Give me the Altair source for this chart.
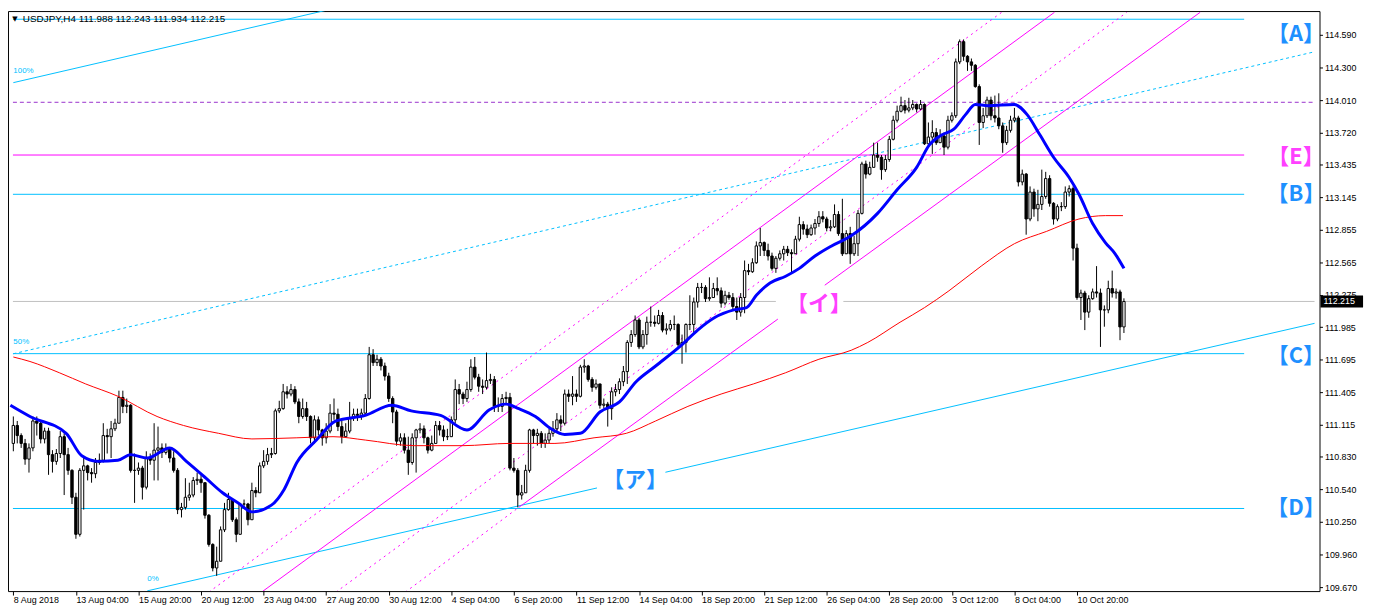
import altair as alt
import pandas as pd

# ---------------- data (USDJPY H4, bar index 0..284) ----------------
OPEN_FIRST = 110.95
CLOSE = [
 111.11,111.02,110.95,110.81,110.91,111.15,111.13,110.99,111.06,110.85,
 110.79,110.86,111.01,110.85,110.71,110.47,110.14,110.71,110.75,110.69,
 110.68,110.78,110.80,111.02,111.01,111.08,111.13,111.36,111.28,111.29,
 110.71,110.71,110.73,110.56,110.82,110.80,110.89,110.91,110.87,110.90,
 110.82,110.71,110.36,110.38,110.47,110.49,110.62,110.63,110.60,110.31,
 110.05,109.84,109.90,110.18,110.36,110.45,110.27,110.14,110.41,110.41,
 110.27,110.53,110.51,110.75,110.79,110.85,110.86,111.24,111.26,111.41,
 111.39,111.43,111.32,111.19,111.26,111.19,111.00,111.16,111.07,111.00,
 111.06,111.22,111.21,111.10,111.01,111.06,111.18,111.21,111.20,111.22,
 111.35,111.74,111.67,111.70,111.64,111.55,111.35,111.23,110.97,111.00,
 110.89,110.78,111.00,111.07,111.08,111.00,110.89,110.95,111.11,111.07,
 111.01,111.01,111.16,111.43,111.39,111.35,111.43,111.63,111.54,111.46,
 111.45,111.51,111.52,111.28,111.28,111.35,111.36,110.73,110.71,110.49,
 110.51,110.71,111.07,111.02,111.04,110.95,110.98,111.04,111.08,111.16,
 111.13,111.39,111.37,111.39,111.37,111.63,111.64,111.52,111.45,111.48,
 111.29,111.30,111.26,111.41,111.43,111.50,111.59,111.85,111.92,112.05,
 111.81,111.92,112.03,112.03,112.02,112.09,111.96,111.97,112.01,112.01,
 111.83,111.85,112.01,112.01,112.21,112.34,112.34,112.24,112.25,112.33,
 112.31,112.20,112.27,112.25,112.17,112.12,112.25,112.49,112.48,112.56,
 112.71,112.74,112.67,112.62,112.51,112.60,112.64,112.68,112.65,112.64,
 112.77,112.90,112.86,112.81,112.87,112.91,112.97,112.95,112.87,112.88,
 112.99,112.82,112.64,112.82,112.64,112.73,113.00,113.44,113.35,113.41,
 113.52,113.50,113.39,113.48,113.66,113.83,113.91,113.96,113.92,113.94,
 113.97,113.93,113.97,113.62,113.68,113.72,113.63,113.69,113.59,113.83,
 113.87,114.35,114.53,114.40,114.35,114.32,114.13,113.81,113.87,114.01,
 113.87,113.85,113.78,113.63,113.74,113.83,113.85,113.28,113.35,112.95,
 113.19,113.04,113.08,113.15,113.31,113.09,112.95,113.06,113.06,113.19,
 113.22,112.69,112.25,112.29,112.12,112.24,112.30,112.29,112.14,112.14,
 112.33,112.29,112.30,111.988,112.215,
]
HIGH = [
 111.19,111.15,111.04,110.99,110.95,111.19,111.19,111.15,111.09,111.09,
 110.89,110.90,111.06,111.04,110.91,110.72,110.51,110.73,110.82,110.76,
 110.73,110.82,110.86,111.13,111.08,111.15,111.17,111.42,111.42,111.35,
 111.30,110.86,110.78,110.75,110.88,110.86,111.13,111.10,110.95,110.95,
 110.91,110.88,110.73,110.42,110.64,110.60,110.65,110.69,110.67,110.60,
 110.32,110.06,110.03,110.21,110.42,110.51,110.45,110.29,110.42,110.45,
 110.42,110.60,110.56,110.78,110.89,110.91,110.91,111.26,111.33,111.48,
 111.46,111.48,111.46,111.35,111.35,111.32,111.20,111.20,111.19,111.08,
 111.13,111.30,111.35,111.26,111.15,111.13,111.32,111.26,111.26,111.26,
 111.39,111.81,111.79,111.74,111.72,111.67,111.58,111.37,111.25,111.04,
 111.04,111.01,111.04,111.08,111.13,111.11,111.01,111.02,111.15,111.15,
 111.11,111.08,111.19,111.52,111.48,111.41,111.50,111.70,111.72,111.57,
 111.52,111.76,111.57,111.55,111.36,111.39,111.41,111.40,110.82,110.73,
 110.58,110.76,111.08,111.08,111.08,111.06,111.04,111.08,111.15,111.22,
 111.20,111.43,111.43,111.55,111.43,111.65,111.70,111.65,111.54,111.52,
 111.48,111.35,111.32,111.45,111.48,111.53,111.64,111.87,111.96,112.09,
 112.07,111.96,112.08,112.17,112.09,112.14,112.12,112.02,112.05,112.09,
 112.02,111.92,112.02,112.27,112.25,112.38,112.38,112.36,112.43,112.38,
 112.43,112.34,112.31,112.30,112.29,112.25,112.29,112.58,112.55,112.60,
 112.75,112.87,112.75,112.73,112.65,112.62,112.67,112.71,112.71,112.68,
 112.80,112.97,112.93,112.90,112.90,112.95,113.02,113.02,112.97,112.94,
 113.08,113.02,113.13,112.85,112.88,112.80,113.03,113.46,113.47,113.46,
 113.63,113.63,113.52,113.52,113.69,113.87,113.96,114.04,114.01,114.03,
 114.01,113.98,114.01,113.98,113.81,113.83,113.76,113.75,113.72,113.87,
 113.90,114.38,114.55,114.55,114.41,114.38,114.33,114.15,113.94,114.04,
 114.04,114.05,114.07,113.81,113.78,113.87,113.94,113.87,113.39,113.36,
 113.24,113.22,113.21,113.39,113.37,113.34,113.10,113.08,113.10,113.24,
 113.25,113.24,112.73,112.32,112.31,112.27,112.33,112.53,112.33,112.18,
 112.40,112.49,112.33,112.32,112.243,
]
LOW = [
 110.88,110.95,110.91,110.76,110.69,110.88,111.02,110.95,110.95,110.67,
 110.69,110.76,110.82,110.49,110.67,110.41,110.10,110.12,110.36,110.62,
 110.60,110.64,110.76,110.78,110.86,110.82,111.06,111.13,111.22,111.22,
 110.69,110.42,110.67,110.45,110.54,110.76,110.62,110.62,110.82,110.85,
 110.78,110.69,110.32,110.29,110.36,110.44,110.47,110.58,110.51,110.28,
 110.03,109.81,109.77,110.01,110.16,110.35,110.25,110.07,110.14,110.37,
 110.22,110.27,110.47,110.51,110.73,110.76,110.82,110.85,111.22,111.25,
 111.35,111.37,111.30,111.13,111.17,111.15,110.95,110.95,111.02,110.93,
 110.95,111.04,111.16,111.06,110.95,111.00,111.04,111.15,111.15,111.16,
 111.20,111.34,111.64,111.64,111.60,111.51,111.32,111.13,110.93,110.93,
 110.86,110.67,110.76,110.69,111.04,110.95,110.86,110.88,110.95,111.02,
 110.97,110.98,111.02,111.13,111.30,111.30,111.32,111.41,111.52,111.41,
 111.39,111.43,111.48,111.23,111.23,111.23,111.30,110.71,110.69,110.38,
 110.45,110.51,110.69,110.95,110.93,110.91,110.91,110.95,111.01,111.06,
 111.06,111.11,111.32,111.29,111.32,111.36,111.58,111.50,111.41,111.43,
 111.26,111.26,111.10,111.16,111.37,111.39,111.46,111.48,111.81,111.90,
 111.79,111.79,111.83,111.99,111.99,112.01,111.94,111.92,111.95,111.96,
 111.79,111.66,111.76,111.96,111.94,112.16,112.29,112.21,112.22,112.29,
 112.27,112.16,112.18,112.23,112.14,112.05,112.08,112.11,112.45,112.47,
 112.55,112.62,112.62,112.58,112.49,112.47,112.58,112.58,112.62,112.46,
 112.64,112.75,112.81,112.78,112.80,112.81,112.88,112.92,112.84,112.84,
 112.87,112.80,112.62,112.71,112.55,112.62,112.62,112.99,113.31,113.34,
 113.41,113.46,113.30,113.37,113.46,113.65,113.81,113.90,113.89,113.90,
 113.92,113.90,113.92,113.61,113.63,113.53,113.61,113.63,113.52,113.57,
 113.81,113.85,114.33,114.36,114.27,114.27,114.12,113.61,113.76,113.85,
 113.83,113.81,113.75,113.54,113.61,113.72,113.81,113.24,113.25,112.81,
 112.93,112.97,112.93,113.03,113.13,113.06,112.90,112.93,113.02,113.04,
 113.15,112.58,112.23,112.05,111.96,112.07,112.23,112.25,111.81,111.99,
 112.11,112.25,112.24,111.87,111.934,
]

# moving averages (bar index, price)
BLUE_I = [-0.75, 4.25, 13.5, 17.5, 21.75, 26.75, 30, 34.25, 40, 44.25, 49.25, 53.5, 57.5, 61, 66,
          69.25, 72.5, 77.5, 82.5, 90, 96.75, 101.75, 109.25, 116, 121.75, 126, 129.25, 133.5,
          137.5, 141, 145, 150, 155, 159.25, 164.25, 171, 175, 179.25, 184.25, 187.5, 190, 193.5,
          197.5, 201, 205, 209.25, 214.25, 221, 226, 231, 234.25, 237.5, 240.5, 243.5, 246,
          249.25, 256, 259.25, 262.5, 266, 270, 272.5, 276, 279.25, 281.75, 284]
BLUE_P = [111.29, 111.19, 111.04, 110.84, 110.79, 110.80, 110.85, 110.82, 110.91, 110.79, 110.64,
          110.51, 110.42, 110.34, 110.40, 110.54, 110.78, 110.98, 111.15, 111.20, 111.29, 111.24,
          111.20, 111.07, 111.25, 111.30, 111.26, 111.19, 111.08, 111.03, 111.04, 111.23, 111.32,
          111.50, 111.64, 111.83, 111.96, 112.07, 112.14, 112.16, 112.27, 112.38, 112.44, 112.51,
          112.62, 112.71, 112.80, 113.00, 113.21, 113.41, 113.61, 113.70, 113.75, 113.88, 113.97,
          113.96, 113.97, 113.88, 113.70, 113.50, 113.32, 113.17, 112.91, 112.74, 112.64, 112.51]
RED_I = [0, 4.25, 11.75, 18.5, 26.75, 36.75, 43.5, 52.5, 61, 72.5, 81.75, 90, 102.5, 115, 126.75,
         138.5, 148.5, 156.75, 164.25, 172.5, 181, 189.25, 197.5, 206, 214.25, 218.5, 226.75, 233,
         239.25, 247.5, 256, 264.25, 272.5, 279.25, 283.75]
RED_P = [111.72, 111.68, 111.58, 111.48, 111.37, 111.19, 111.11, 111.04, 110.99, 111.00, 111.01,
         110.98, 110.93, 110.93, 110.95, 110.95, 111.00, 111.04, 111.15, 111.28, 111.39, 111.48,
         111.58, 111.70, 111.78, 111.85, 112.03, 112.16, 112.31, 112.53, 112.73, 112.84, 112.95,
         112.98, 112.98]

# drawn objects: (group, style, x1, p1, x2, p2)
SEGMENTS = [
    ("A", "cyan", -0.1, 114.73, 314.75, 114.73),
    ("B", "cyan", -0.1, 113.17, 314.75, 113.17),
    ("C", "cyan", -0.1, 111.75, 314.75, 111.75),
    ("D", "cyan", -0.1, 110.37, 314.75, 110.37),
    ("F100", "cyan", 0, 114.165, 80, 114.81),
    ("F0a", "cyan", 34.25, 109.636, 149.25, 110.553),
    ("F0b", "cyan", 166.75, 110.693, 332.75, 112.02),
    ("F50", "cyandot", 0, 111.749, 332.75, 114.44),
    ("E", "mag", -0.1, 113.52, 314.75, 113.52),
    ("M1", "mag", 63.5, 109.625, 266.25, 114.792),
    ("M2a", "mag", 129.25, 110.38, 195.5, 112.058),
    ("M2b", "mag", 207.5, 112.36, 303.5, 114.792),
    ("D1", "magdot", 50, 109.625, 252.75, 114.792),
    ("D3", "magdot", 82.5, 109.625, 284.75, 114.792),
    ("D4", "magdot", 100.25, 109.625, 129.25, 110.38),
    ("P", "purple", -0.1, 113.99, 332.75, 113.99),
    ("G1", "gray", -0.1, 112.215, 195.0, 112.215),
    ("G2", "gray", 212.25, 112.215, 332.75, 112.215),
]

LABEL_TEXT = ["【A】", "【E】", "【B】", "【C】", "【D】", "【イ】", "【ア】"]
LABEL_I = [328.0, 328.0, 328.0, 328.0, 328.0, 206.0, 159.0]
LABEL_P = [114.60, 113.50, 113.17, 111.73, 110.37, 112.19, 110.62]
LABEL_COLOR = ["#1e90ff", "#ff40ff", "#1e90ff", "#1e90ff", "#1e90ff", "#ff40ff", "#1e90ff"]

PCT_TEXT = ["100%", "50%", "0%"]
PCT_I = [0.0, 0.0, 34.25]
PCT_P = [114.27, 111.85, 109.74]

PRICE_TICKS = [109.670, 109.960, 110.250, 110.540, 110.830, 111.115, 111.405, 111.695, 111.985,
               112.275, 112.565, 112.855, 113.145, 113.435, 113.720, 114.010, 114.300, 114.590]
DATE_TICKS = [0, 16, 32, 48, 64, 80, 96, 112, 128, 144, 160, 176, 192, 208, 224, 240, 256, 272]
DATE_LABELS = ["8 Aug 2018", "13 Aug 04:00", "15 Aug 20:00", "20 Aug 12:00", "23 Aug 04:00",
               "27 Aug 20:00", "30 Aug 12:00", "4 Sep 04:00", "6 Sep 20:00", "11 Sep 12:00",
               "14 Sep 04:00", "18 Sep 20:00", "21 Sep 12:00", "26 Sep 04:00", "28 Sep 20:00",
               "3 Oct 12:00", "8 Oct 04:00", "10 Oct 20:00"]
HEADER = "USDJPY,H4  111.988 112.243 111.934 112.215"
LAST_PRICE = 112.215

# ---------------- build ----------------
W, H = 1325, 586
FONT = "Liberation Sans"
xs = alt.Scale(domain=[-0.1, 332.75], nice=False, zero=False)
ys = alt.Scale(domain=[109.634, 114.803], nice=False, zero=False)

opens = [OPEN_FIRST] + CLOSE[:-1]
candles = pd.DataFrame({
    "i": list(range(len(CLOSE))),
    "o": opens,
    "c": CLOSE,
    "h": [max(h, o, c) for h, o, c in zip(HIGH, opens, CLOSE)],
    "l": [min(l, o, c) for l, o, c in zip(LOW, opens, CLOSE)],
})

label_expr = "[" + ",".join("'%s'" % s for s in DATE_LABELS) + "][round(datum.value/16)]"

X_AXIS = alt.Axis(
    values=DATE_TICKS, labelExpr=label_expr, labelAlign="left", labelBaseline="top",
    tickSize=4, tickColor="black", labelPadding=1, domain=False, grid=False, title=None,
    labelFont=FONT, labelFontSize=9, labelColor="black", labelOverlap=False, labelFlush=False)
Y_AXIS = alt.Axis(
    orient="right", values=PRICE_TICKS, format=".3f", tickSize=3, tickColor="black",
    labelPadding=2, domain=False, grid=False, title=None, labelFont=FONT, labelFontSize=9,
    labelColor="black", labelOverlap=False, labelFlush=False, labelBound=False)


def xq(f):
    return alt.X(f, scale=xs, axis=X_AXIS)


def yq(f):
    return alt.Y(f, scale=ys, axis=Y_AXIS)


wicks = alt.Chart(candles).mark_rule(color="black", strokeWidth=1).encode(
    x=xq("i:Q"), y=yq("l:Q"), y2="h:Q")
bodies = alt.Chart(candles).mark_bar(size=2.4, stroke="black", strokeWidth=1).encode(
    x=xq("i:Q"), y=yq("o:Q"), y2="c:Q",
    fill=alt.condition("datum.c >= datum.o", alt.value("white"), alt.value("black")))

STYLES = {
    "cyan": dict(color="#00bfff", strokeWidth=1),
    "cyandot": dict(color="#00bfff", strokeWidth=1, strokeDash=[3, 3]),
    "mag": dict(color="#ff00ff", strokeWidth=1),
    "magdot": dict(color="#ff00ff", strokeWidth=1, strokeDash=[2, 4]),
    "purple": dict(color="#9932cc", strokeWidth=1, strokeDash=[4, 3]),
    "gray": dict(color="#c0c0c0", strokeWidth=1),
}
line_layers = []
for style, kw in STYLES.items():
    rows = []
    for g, s, x1, p1, x2, p2 in SEGMENTS:
        if s == style:
            rows.append({"g": g, "i": x1, "p": p1})
            rows.append({"g": g, "i": x2, "p": p2})
    df = pd.DataFrame(rows)
    line_layers.append(alt.Chart(df).mark_line(clip=True, **kw).encode(
        x=xq("i:Q"), y=yq("p:Q"), detail="g:N", order="i:Q"))

red = alt.Chart(pd.DataFrame({"i": RED_I, "p": RED_P})).mark_line(
    color="#ff0000", strokeWidth=1, clip=True, interpolate="monotone").encode(
    x=xq("i:Q"), y=yq("p:Q"), order="i:Q")
blue = alt.Chart(pd.DataFrame({"i": BLUE_I, "p": BLUE_P})).mark_line(
    color="#0000ff", strokeWidth=3, clip=True, interpolate="monotone").encode(
    x=xq("i:Q"), y=yq("p:Q"), order="i:Q")

labels_df = pd.DataFrame({"t": LABEL_TEXT, "i": LABEL_I, "p": LABEL_P, "col": LABEL_COLOR})
labels = alt.Chart(labels_df).mark_text(
    font="Noto Sans CJK JP", fontSize=22, fontWeight="bold", align="center", baseline="middle").encode(
    x=xq("i:Q"), y=yq("p:Q"), text="t:N", color=alt.Color("col:N", scale=None))

pct = alt.Chart(pd.DataFrame({"t": PCT_TEXT, "i": PCT_I, "p": PCT_P})).mark_text(
    font=FONT, fontSize=8, color="#00bfff", align="left", baseline="middle").encode(
    x=xq("i:Q"), y=yq("p:Q"), text="t:N")

header = alt.Chart(pd.DataFrame({"t": [HEADER]})).mark_text(
    font=FONT, fontSize=10, color="black", align="left", baseline="middle").encode(
    x=alt.value(15), y=alt.value(8), text="t:N")
tri = alt.Chart(pd.DataFrame({"t": ["▼"]})).mark_text(
    font="DejaVu Sans", fontSize=7, color="black", align="center", baseline="middle").encode(
    x=alt.value(7), y=alt.value(8), text="t:N")

tag_df = pd.DataFrame({"p": [LAST_PRICE], "t": ["%.3f" % LAST_PRICE]})
tag_bg = alt.Chart(tag_df).mark_rule(color="black", strokeWidth=12, strokeCap="butt", clip=False).encode(
    x=alt.value(W + 1), x2=alt.value(W + 44), y=yq("p:Q"))
tag_txt = alt.Chart(tag_df).mark_text(
    font=FONT, fontSize=9, color="white", align="left", baseline="middle", clip=False).encode(
    x=alt.value(W + 4), y=yq("p:Q"), text="t:N")

chart = alt.layer(
    *line_layers, wicks, bodies, red, blue, labels, pct, header, tri, tag_bg, tag_txt
).properties(width=W, height=H, padding=0, background="white").configure_view(
    stroke="black", strokeWidth=1).configure_axis(labelOverlap=False)

chart.save("out.html", embed_options={"renderer": "svg", "actions": False})
